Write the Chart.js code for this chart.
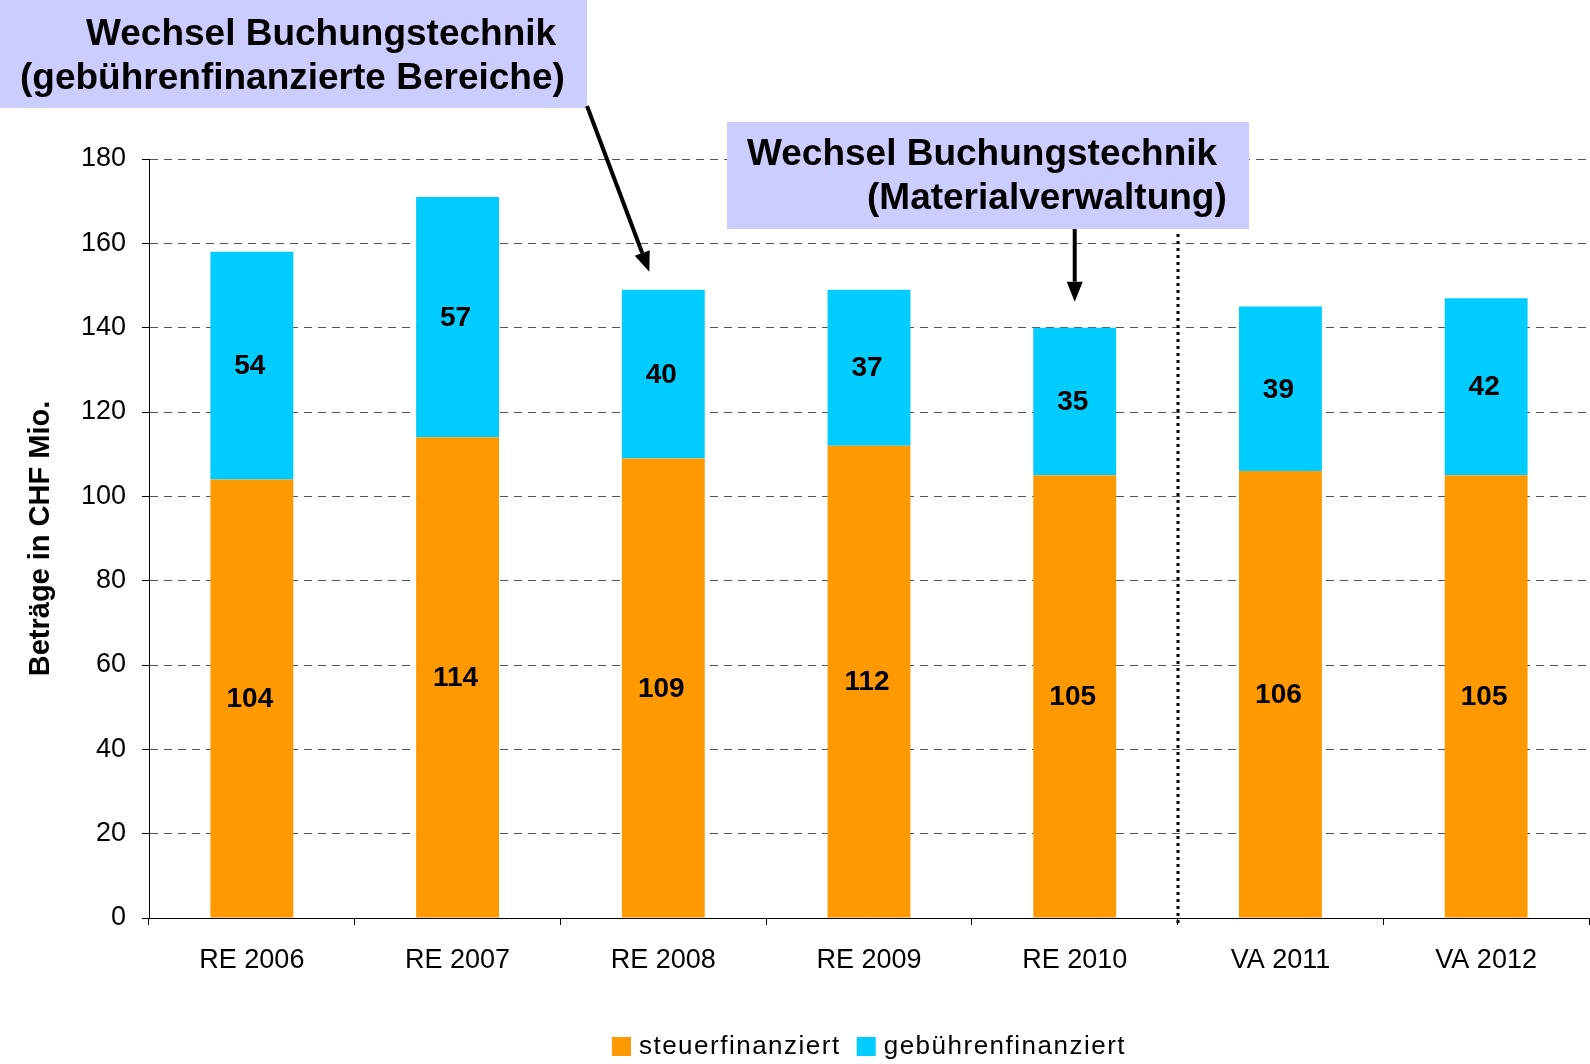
<!DOCTYPE html>
<html>
<head>
<meta charset="utf-8">
<script src="https://cdn.jsdelivr.net/npm/chart.js@4.4.0/dist/chart.umd.min.js"></script>
<style>
    html, body { margin: 0; padding: 0; background: #fff; }
    #canvasDiv { width: 1590px; height: 1064px; }
</style>
</head>
<body>
<div id="canvasDiv"><canvas id="myChart" width="1590" height="1064"></canvas></div>
<script>
//chart data
const categories = ['RE 2006', 'RE 2007', 'RE 2008', 'RE 2009', 'RE 2010', 'VA 2011', 'VA 2012'];
const steuerfinanziert = [104, 114, 109, 112, 105, 106, 105];
const gebuehrenfinanziert = [54, 57, 40, 37, 35, 39, 42];
const seriesNames = ['steuerfinanziert', 'gebührenfinanziert'];
const yMin = 0;
const yMax = 180;
const yStep = 20;
const yTitle = 'Beträge in CHF Mio.';
const note1 = ['Wechsel Buchungstechnik', '(gebührenfinanzierte Bereiche)'];
const note2 = ['Wechsel Buchungstechnik', '(Materialverwaltung)'];

const orange = '#FF9900';
const blue = '#00CCFF';
const noteColor = '#CCCCFF';
const fontName = '"Liberation Sans", Arial, sans-serif';

//draws an arrow with a filled head
function drawArrow(ctx, x1, y1, x2, y2) {
    const angle = Math.atan2(y2 - y1, x2 - x1);
    const headLen = 20;
    const headWidth = 8;
    const bx = x2 - headLen * Math.cos(angle);
    const by = y2 - headLen * Math.sin(angle);
    ctx.save();
    ctx.strokeStyle = '#000';
    ctx.fillStyle = '#000';
    ctx.lineWidth = 4;
    ctx.beginPath();
    ctx.moveTo(x1, y1);
    ctx.lineTo(bx, by);
    ctx.stroke();
    ctx.beginPath();
    ctx.moveTo(x2, y2);
    ctx.lineTo(bx + headWidth * Math.sin(angle), by - headWidth * Math.cos(angle));
    ctx.lineTo(bx - headWidth * Math.sin(angle), by + headWidth * Math.cos(angle));
    ctx.closePath();
    ctx.fill();
    ctx.restore();
}

//values in the middle of each segment
const barLabels = {
    id: 'barLabels',
    afterDatasetsDraw(chart) {
        const ctx = chart.ctx;
        ctx.save();
        ctx.font = 'bold 28px ' + fontName;
        ctx.fillStyle = '#000';
        ctx.textAlign = 'center';
        ctx.textBaseline = 'middle';
        chart.data.datasets.forEach((ds, d) => {
            chart.getDatasetMeta(d).data.forEach((bar, i) => {
                ctx.fillText(ds.data[i], bar.x - 2, (bar.y + bar.base) / 2 + 1);
            });
        });
        ctx.restore();
    }
};

//notes, arrows, separator and legend
const extras = {
    id: 'extras',
    afterDraw(chart) {
        const ctx = chart.ctx;
        const xs = chart.scales.x;
        const ys = chart.scales.y;
        const area = chart.chartArea;

        //dotted separator between actual and budget
        const sepX = Math.round((xs.getPixelForValue(4) + xs.getPixelForValue(5)) / 2);
        ctx.save();
        ctx.strokeStyle = '#000';
        ctx.lineWidth = 3;
        ctx.setLineDash([3, 4]);
        ctx.beginPath();
        ctx.moveTo(sepX, 234);
        ctx.lineTo(sepX, area.bottom + 6);
        ctx.stroke();
        ctx.restore();

        //note boxes
        ctx.save();
        ctx.fillStyle = noteColor;
        ctx.fillRect(0, 0, 587, 108);
        ctx.fillRect(727, 122, 522, 107);
        ctx.fillStyle = '#000';
        ctx.font = 'bold 37px ' + fontName;
        ctx.textBaseline = 'middle';
        ctx.textAlign = 'left';
        ctx.fillText(note1[0], 86, 35);
        ctx.fillText(note1[1], 20, 79);
        ctx.fillText(note2[0], 747, 155);
        ctx.fillText(note2[1], 867, 199);
        ctx.restore();

        //arrows pointing at the bars
        const t2 = steuerfinanziert[2] + gebuehrenfinanziert[2];
        drawArrow(ctx, 587, 106, xs.getPixelForValue(2) - 14, ys.getPixelForValue(t2) - 18);
        const t4 = steuerfinanziert[4] + gebuehrenfinanziert[4];
        drawArrow(ctx, xs.getPixelForValue(4), 229, xs.getPixelForValue(4), ys.getPixelForValue(t4) - 26);

        //legend
        ctx.save();
        ctx.font = '26px ' + fontName;
        ctx.letterSpacing = '1.5px';
        ctx.textBaseline = 'middle';
        const colors = [orange, blue];
        const box = 19, gapIn = 8, gapOut = 16;
        let total = 0;
        seriesNames.forEach((n, i) => {
            total += box + gapIn + ctx.measureText(n).width + (i < seriesNames.length - 1 ? gapOut : 0);
        });
        let x = (area.left + area.right) / 2 - total / 2;
        const y = 1046;
        seriesNames.forEach((n, i) => {
            ctx.fillStyle = colors[i];
            ctx.fillRect(x, y - 9, box, box);
            x += box + gapIn;
            ctx.fillStyle = '#000';
            ctx.fillText(n, x, y + 1);
            x += ctx.measureText(n).width + gapOut;
        });
        ctx.restore();
    }
};

const data = {
    labels: categories,
    datasets: [{
        label: seriesNames[0],
        data: steuerfinanziert,
        backgroundColor: orange,
        borderWidth: 0
    }, {
        label: seriesNames[1],
        data: gebuehrenfinanziert,
        backgroundColor: blue,
        borderWidth: 0
    }]
};

const config = {
    type: 'bar',
    data,
    options: {
        responsive: false,
        animation: false,
        devicePixelRatio: 1,
        layout: { padding: { top: 159, left: 0, right: 1, bottom: 86 } },
        datasets: { bar: { barPercentage: 0.403, categoryPercentage: 1 } },
        plugins: {
            legend: { display: false },
            tooltip: { enabled: false }
        },
        scales: {
            x: {
                stacked: true,
                afterFit: (scale) => { scale.height = 60; },
                grid: {
                    offset: true,
                    drawOnChartArea: false,
                    drawTicks: true,
                    tickLength: 7,
                    tickColor: '#000',
                    color: '#000'
                },
                border: { color: '#000', width: 1 },
                ticks: {
                    color: '#000',
                    padding: 19,
                    maxRotation: 0,
                    font: { family: fontName, size: 27 }
                }
            },
            y: {
                stacked: true,
                min: yMin,
                max: yMax,
                afterFit: (scale) => { scale.width = 149; },
                grid: {
                    color: (c) => c.tick && c.tick.value === 0 ? 'rgba(0,0,0,0)' : '#555',
                    lineWidth: 1,
                    tickLength: 7,
                    tickColor: '#000',
                    tickBorderDash: []
                },
                border: { color: '#000', width: 1, dash: [8, 6] },
                ticks: {
                    stepSize: yStep,
                    color: '#000',
                    padding: 16,
                    font: { family: fontName, size: 27 }
                },
                title: {
                    display: true,
                    text: yTitle,
                    color: '#000',
                    padding: { top: 24, bottom: 0 },
                    font: { family: fontName, size: 29, weight: 'bold' }
                }
            }
        }
    },
    plugins: [barLabels, extras]
};

const myChart = new Chart(document.getElementById('myChart'), config);
</script>
</body>
</html>
